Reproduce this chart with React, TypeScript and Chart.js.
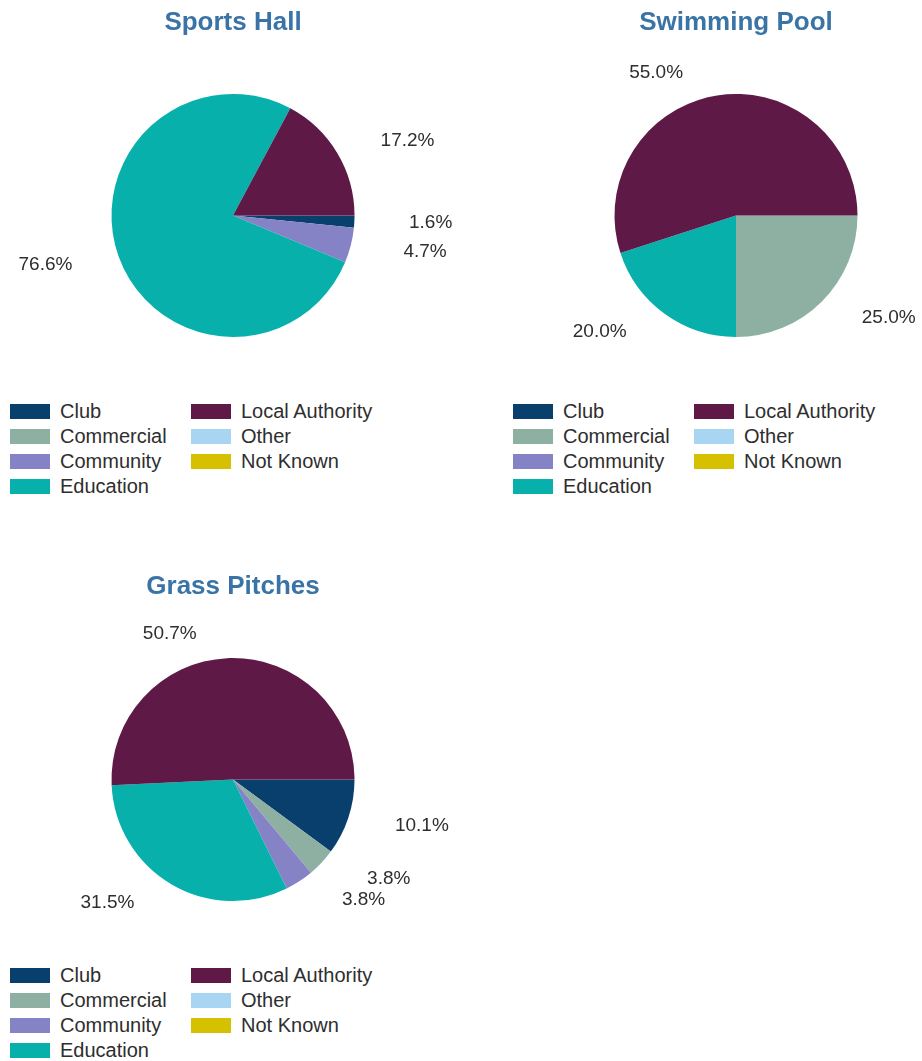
import React, { useEffect, useRef } from 'react';
import { Chart, registerables } from 'chart.js';

Chart.register(...registerables);

const categories = ['Club', 'Commercial', 'Community', 'Education', 'Local Authority', 'Other', 'Not Known'];
const categoryColors = ['#083f6d', '#8db0a3', '#8682c6', '#07b0ab', '#5e1947', '#a7d5f2', '#d6c100'];

const sportsHallTitle = 'Sports Hall';
const sportsHallValues = [1.6, 0, 4.7, 76.6, 17.2, 0, 0];

const swimmingPoolTitle = 'Swimming Pool';
const swimmingPoolValues = [0, 25.0, 0, 20.0, 55.0, 0, 0];

const grassPitchesTitle = 'Grass Pitches';
const grassPitchesValues = [10.1, 3.8, 3.8, 31.5, 50.7, 0, 0];

const FONT = '"Liberation Sans", Arial, Helvetica, sans-serif';
const TITLE_COLOR = '#3a74a6';
const TEXT_COLOR = '#2e2e2e';

const outsideLabels = {
  id: 'outsideLabels',
  afterDatasetsDraw(chart: any) {
    const ctx = chart.ctx;
    const meta = chart.getDatasetMeta(0);
    const data = chart.data.datasets[0].data as number[];
    ctx.save();
    ctx.font = `19px ${FONT}`;
    ctx.fillStyle = TEXT_COLOR;
    ctx.textAlign = 'center';
    ctx.textBaseline = 'middle';
    meta.data.forEach((arc: any, i: number) => {
      const v = data[i];
      if (!v) return;
      const p = arc.getProps(['x', 'y', 'startAngle', 'endAngle', 'outerRadius'], true);
      const mid = (p.startAngle + p.endAngle) / 2;
      const dx = Math.cos(mid);
      const dy = Math.sin(mid);
      const h = Math.atan2(Math.abs(dy), Math.abs(dx));
      const hc = h * 0.75;
      const hcDeg = (hc * 180) / Math.PI;
      const scale = p.outerRadius / 121.5;
      const dist = scale * (198 - 40 * Math.pow(Math.min(hcDeg / 67, 1.2), 1.5));
      const x = p.x + Math.sign(dx || 1) * dist * Math.cos(hc);
      const y = p.y + Math.sign(dy || 1) * dist * Math.sin(hc);
      ctx.fillText(v.toFixed(1) + '%', x, y);
    });
    ctx.restore();
  },
};

type PieProps = {
  title: string;
  values: number[];
  left: number;
  top: number;
  width: number;
  height: number;
  padLeft: number;
  padRight: number;
};

function PieBlock({ title, values, left, top, width, height, padLeft, padRight }: PieProps) {
  const ref = useRef<HTMLCanvasElement | null>(null);
  useEffect(() => {
    if (!ref.current) return;
    const chart = new Chart(ref.current, {
      type: 'pie',
      data: {
        labels: categories,
        datasets: [
          {
            data: values,
            backgroundColor: categoryColors,
            borderWidth: 0,
          },
        ],
      },
      options: {
        responsive: false,
        animation: false,
        rotation: 90,
        layout: { padding: { left: padLeft, right: padRight, top: 0, bottom: 53 } },
        plugins: {
          legend: { display: false },
          tooltip: { enabled: false },
          title: {
            display: true,
            text: title,
            color: TITLE_COLOR,
            font: { family: FONT, size: 26, weight: 'bold', lineHeight: 1.2 },
            padding: { top: 7, bottom: 55.8 },
          },
        },
      },
      plugins: [outsideLabels],
    });
    return () => chart.destroy();
  }, [title, values, padLeft, padRight]);
  return (
    <canvas
      ref={ref}
      width={width}
      height={height}
      style={{ position: 'absolute', left, top, width, height }}
    />
  );
}

type LegendProps = { left: number; top: number };

function Legend({ left, top }: LegendProps) {
  const col1 = categories.slice(0, 4);
  const col2 = categories.slice(4);
  const renderCol = (items: string[], offset: number, x: number) =>
    items.map((c, i) => (
      <div
        key={c}
        style={{
          position: 'absolute',
          left: left + x,
          top: top + i * 25 - 12.5,
          height: 25,
          display: 'flex',
          alignItems: 'center',
          whiteSpace: 'nowrap',
        }}
      >
        <div
          style={{
            width: 40,
            height: 15,
            background: categoryColors[offset + i],
            marginRight: 10,
          }}
        />
        <span style={{ font: `20px ${FONT}`, color: TEXT_COLOR }}>{c}</span>
      </div>
    ));
  return (
    <>
      {renderCol(col1, 0, 0)}
      {renderCol(col2, 4, 181)}
    </>
  );
}

export default function App() {
  return (
    <div
      style={{
        position: 'absolute',
        left: 0,
        top: 0,
        width: 922,
        height: 1061,
        background: '#ffffff',
        overflow: 'hidden',
      }}
    >
      <PieBlock
        title={sportsHallTitle}
        values={sportsHallValues}
        left={0}
        top={0}
        width={461}
        height={390}
        padLeft={111.5}
        padRight={106.5}
      />
      <PieBlock
        title={swimmingPoolTitle}
        values={swimmingPoolValues}
        left={461}
        top={0}
        width={461}
        height={390}
        padLeft={153.5}
        padRight={64.5}
      />
      <PieBlock
        title={grassPitchesTitle}
        values={grassPitchesValues}
        left={0}
        top={564}
        width={461}
        height={390}
        padLeft={111.5}
        padRight={106.5}
      />
      <Legend left={10} top={411} />
      <Legend left={513} top={411} />
      <Legend left={10} top={975.5} />
    </div>
  );
}
